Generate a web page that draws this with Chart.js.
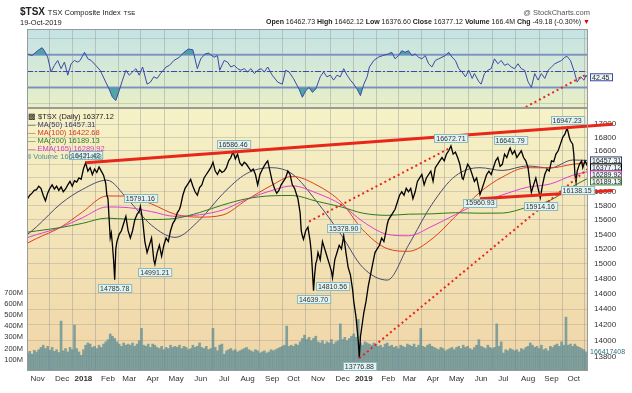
<!DOCTYPE html>
<html>
<head>
<meta charset="utf-8">
<script src="https://cdn.jsdelivr.net/npm/chart.js@4.4.1/dist/chart.umd.min.js"></script>
<style>
  body { margin: 0; background: #fff; font-family: Arial, "Liberation Sans", sans-serif; }
  #wrap { position: relative; width: 632px; height: 393px; }
  #c { position: absolute; left: 0; top: 0; }
  .t { position: absolute; white-space: nowrap; color: #222; }
  .lg { position: absolute; left: 28px; top: 113px; font-size: 7.5px; line-height: 8px; }
  .lg div { white-space: nowrap; }
</style>
</head>
<body>
<div id="wrap">
  <canvas id="c" width="632" height="393"></canvas>
  <div class="t" style="left:20px;top:6px;font-size:10px"><b>$TSX</b> <span style="font-size:7.5px">TSX Composite Index</span> <span style="font-size:6px">TSE</span></div>
  <div class="t" style="left:20px;top:18px;font-size:7.5px">19-Oct-2019</div>
  <div class="t" style="right:42px;top:8px;font-size:7.5px;color:#555">@ StockCharts.com</div>
  <div class="t" style="right:42px;top:18px;font-size:7px"><b>Open</b> 16462.73 <b>High</b> 16462.12 <b>Low</b> 16376.60 <b>Close</b> 16377.12 <b>Volume</b> 166.4M <b>Chg</b> -49.18 (-0.30%) <span style="color:#d00">&#9660;</span></div>
  <div class="lg">
    <div style="color:#222">&#9641; $TSX (Daily) 16377.12</div>
    <div style="color:#3b3b66">&mdash; MA(50) 16457.31</div>
    <div style="color:#d83a18">&mdash; MA(100) 16422.68</div>
    <div style="color:#2f7a1e">&mdash; MA(200) 16189.13</div>
    <div style="color:#d03cc0">&mdash; EMA(165) 16289.92</div>
    <div style="color:#4f8f96">&#8214; Volume 166,417,408</div>
  </div>
</div>
<script>
// month gridlines (trading-day index) and their labels
const monthTicks = [9, 31, 50, 72, 91, 112, 133, 155, 176, 197, 219, 238, 260, 282, 301, 323, 342, 363, 384, 406, 426, 448, 469, 489];
const monthLabels = ['Nov', 'Dec', '2018', 'Feb', 'Mar', 'Apr', 'May', 'Jun', 'Jul', 'Aug', 'Sep', 'Oct', 'Nov', 'Dec', '2019', 'Feb', 'Mar', 'Apr', 'May', 'Jun', 'Jul', 'Aug', 'Sep', 'Oct'];

const priceTicks = [13800, 14000, 14200, 14400, 14600, 14800, 15000, 15200, 15400, 15600, 15800, 16000, 16200, 16400, 16600, 16800, 17000];
const rsiTicks = [10, 30, 50, 70, 90];
const volTicks = [100, 200, 300, 400, 500, 600, 700];

const priceDays = [0, 2, 4, 6, 8, 10, 12, 14, 16, 18, 20, 22, 24, 26, 28, 30, 32, 34, 36, 38, 40, 42, 44, 46, 48, 50, 52, 54, 56, 58, 60, 62, 64, 66, 68, 70, 71, 72, 73, 74, 75, 76, 77, 78, 79, 80, 82, 84, 86, 88, 90, 92, 94, 96, 98, 100, 101, 103, 105, 107, 109, 111, 113, 114, 116, 118, 120, 122, 124, 126, 128, 130, 132, 134, 136, 137, 139, 141, 143, 145, 146, 148, 150, 152, 154, 156, 158, 160, 162, 164, 166, 168, 170, 172, 174, 176, 178, 180, 182, 184, 186, 188, 190, 192, 194, 196, 198, 200, 202, 204, 206, 208, 210, 212, 214, 215, 217, 219, 221, 223, 225, 227, 229, 231, 233, 235, 237, 239, 241, 242, 244, 245, 246, 247, 249, 251, 253, 254, 255, 256, 257, 258, 259, 260, 262, 264, 266, 268, 270, 272, 273, 275, 277, 279, 281, 283, 285, 287, 289, 291, 292, 294, 295, 296, 297, 298, 300, 301, 303, 305, 307, 309, 311, 313, 315, 317, 319, 321, 322, 323, 325, 327, 329, 331, 333, 335, 337, 339, 341, 343, 345, 347, 349, 351, 353, 355, 357, 359, 361, 363, 365, 367, 369, 371, 373, 375, 377, 379, 381, 383, 385, 387, 389, 390, 392, 394, 396, 398, 400, 402, 404, 405, 407, 409, 411, 413, 415, 417, 419, 421, 423, 425, 427, 429, 431, 432, 434, 436, 438, 440, 442, 444, 446, 448, 450, 451, 453, 455, 457, 459, 461, 463, 465, 467, 469, 471, 473, 475, 477, 479, 481, 483, 485, 486, 488, 489, 490, 491, 492, 494, 496, 497, 499, 500, 501];
const priceValues = [15900, 15950, 15980, 16020, 16030, 16080, 16050, 15950, 15870, 15980, 16050, 16100, 16040, 16080, 16020, 16070, 16000, 16040, 16100, 16150, 16080, 16160, 16140, 16200, 16180, 16330, 16421, 16300, 16350, 16250, 16330, 16280, 16360, 16300, 16240, 16120, 15950, 15900, 15620, 15350, 15420, 15250, 15050, 14786, 15200, 15300, 15400, 15450, 15550, 15650, 15450, 15350, 15450, 15600, 15680, 15720, 15791, 15600, 15300, 15150, 15250, 15350, 15050, 14991, 15150, 15250, 15100, 15250, 15350, 15300, 15450, 15550, 15600, 15700, 15750, 15800, 15950, 16050, 16100, 16150, 16180, 16080, 16000, 15950, 16060, 16100, 16200, 16250, 16300, 16350, 16430, 16300, 16250, 16320, 16280, 16300, 16350, 16450, 16500, 16586, 16480, 16550, 16420, 16380, 16430, 16400, 16350, 16300, 16330, 16250, 16100, 16250, 16320, 16380, 16430, 16450, 16300, 16150, 16050, 15980, 16020, 16100, 16150, 16200, 16300, 16250, 16100, 16050, 15950, 15900, 15700, 15450, 15380, 15330, 15450, 15500, 15300, 15150, 14900, 14640, 14850, 15000, 15050, 15150, 15050, 15300, 15200, 15100, 15000, 14900, 14811, 15050, 15150, 15250, 15200, 15379, 15150, 14950, 14850, 14650, 14500, 14300, 14150, 14000, 13777, 14050, 14250, 14350, 14500, 14700, 14850, 15000, 15150, 15200, 15250, 15350, 15300, 15450, 15540, 15600, 15650, 15700, 15750, 15850, 15950, 16000, 15950, 16050, 16000, 16050, 15900, 16000, 16150, 16200, 16250, 16100, 16200, 16250, 16300, 16150, 16350, 16400, 16450, 16500, 16450, 16550, 16600, 16672, 16550, 16580, 16500, 16400, 16200, 16180, 16300, 16400, 16350, 16250, 16150, 16200, 16050, 15961, 16050, 16150, 16250, 16300, 16250, 16350, 16450, 16500, 16370, 16400, 16550, 16500, 16600, 16642, 16550, 16600, 16500, 16550, 16600, 16500, 16450, 16350, 16100, 15990, 16100, 16200, 16050, 15914, 16100, 16250, 16330, 16300, 16450, 16440, 16550, 16600, 16700, 16800, 16850, 16947, 16800, 16750, 16700, 16550, 16250, 16138, 16300, 16400, 16450, 16350, 16450, 16420, 16377];

// moving averages read at month ends
const maDays = [0, 8, 30, 49, 71, 90, 111, 132, 154, 175, 196, 218, 237, 259, 281, 300, 322, 341, 362, 383, 405, 425, 447, 468, 488, 501];
const ma50 = [15400, 15504, 15833, 16033, 16168, 15885, 15526, 15358, 15600, 15975, 16263, 16350, 16258, 15857, 15387, 14950, 14780, 15250, 15821, 16229, 16350, 16309, 16375, 16346, 16463, 16457];
const ma100 = [15280, 15342, 15502, 15710, 15940, 15938, 15826, 15681, 15640, 15671, 15881, 16088, 16223, 16096, 15846, 15463, 15203, 15167, 15336, 15650, 15994, 16213, 16350, 16347, 16400, 16423];
const ma200 = [15430, 15447, 15495, 15552, 15626, 15610, 15607, 15621, 15705, 15813, 15900, 15942, 15947, 15863, 15783, 15696, 15665, 15681, 15686, 15702, 15695, 15697, 15778, 15879, 16077, 16189];
const ema165 = [15355, 15395, 15499, 15631, 15783, 15774, 15717, 15651, 15673, 15742, 15891, 16015, 16085, 15980, 15815, 15580, 15400, 15380, 15511, 15676, 15845, 15955, 16064, 16113, 16239, 16290];

// volume in millions, one bar every second trading day
const volume = [160, 175, 150, 185, 170,
  190, 210, 230, 200, 220, 185, 210, 175, 190, 165, 445,
  180, 200, 170, 210, 190, 410, 200, 170, 140,
  190, 230, 250, 240, 210, 220, 200, 230, 210, 240, 260,
  280, 330, 310, 290, 260, 240, 220, 250, 230, 240,
  230, 250, 220, 240, 270, 380, 230, 220, 240, 210,
  240, 230, 210, 200, 220, 190, 210, 200, 230, 210, 220,
  210, 230, 200, 220, 210, 190, 200, 230, 210, 220, 250,
  210, 200, 220, 190, 200, 380, 210, 180, 230, 240,
  150, 180, 190, 200, 180, 190, 170, 180, 190, 200, 210,
  190, 180, 170, 190, 180, 160, 170, 180, 160, 170, 190,
  180, 190, 200, 210, 220, 230, 400, 220, 230,
  220, 240, 230, 260, 290, 320, 280, 300, 270, 290, 310,
  260, 250, 270, 240, 260, 250, 280, 240, 260, 270, 420,
  280, 300, 270, 290, 310, 330, 300, 460, 250, 230,
  260, 250, 240, 230, 250, 240, 220, 230, 210, 240, 250,
  220, 230, 210, 220, 200, 230, 220, 210, 240,
  230, 220, 240, 210, 230, 380, 220, 210, 230, 240, 220,
  210, 200, 190, 210, 200, 180, 190, 200, 210, 190,
  210, 220, 200, 230, 210, 220, 200, 190, 210, 230, 280,
  220, 210, 200, 230, 210, 200, 210, 420, 220, 260,
  160, 190, 180, 200, 190, 180, 190, 170, 200, 190, 210,
  220, 250, 230, 210, 220, 200, 230, 190, 200, 180, 220,
  210, 230, 240, 220, 260, 230, 480, 230, 240, 220,
  240, 220, 210, 200, 190, 170];

// RSI(14)
const rsiDays = [0, 4, 9, 13, 15, 18, 21, 24, 27, 30, 33, 36, 39, 42, 45, 47, 51, 54, 57, 61, 65, 70, 73, 76, 79, 82, 85, 88, 91, 94, 97, 100, 103, 107, 110, 113, 116, 119, 124, 127, 131, 136, 140, 144, 148, 152, 155, 159, 162, 167, 170, 172, 176, 179, 182, 185, 188, 191, 194, 197, 200, 203, 206, 209, 212, 215, 219, 224, 228, 231, 234, 238, 243, 246, 249, 252, 255, 258, 262, 265, 268, 271, 274, 277, 280, 283, 286, 289, 292, 295, 298, 301, 304, 306, 310, 314, 318, 323, 326, 329, 332, 335, 338, 341, 344, 347, 350, 353, 356, 359, 362, 365, 368, 371, 374, 377, 380, 383, 386, 389, 392, 395, 398, 400, 404, 406, 409, 412, 415, 418, 421, 424, 427, 430, 433, 436, 439, 442, 445, 448, 451, 454, 457, 460, 463, 466, 469, 472, 475, 478, 481, 483, 486, 489, 492, 495, 498, 500, 501];
const rsiValues = [71, 69, 75, 78.6, 75, 67, 49, 57, 63, 53, 61, 45, 59, 63, 61, 63, 73, 65, 63, 57, 51, 36.5, 28, 18, 14, 26, 39, 51, 45, 49, 53, 45, 55, 34, 36.5, 43, 41, 47, 55, 57, 63, 67, 73, 77, 76, 53, 65, 71, 72, 67, 69, 51, 63, 61, 55, 57, 53, 51, 53, 49, 53, 47, 51, 53, 49, 55, 45, 36.5, 34, 51, 49, 41, 28, 18, 26, 30, 24, 28, 43, 49, 43, 45, 39, 45, 43, 53, 45, 39, 34, 28, 20, 34, 43, 55, 63, 67, 69, 71, 73, 65, 69, 75, 73, 75, 69, 71, 67, 65, 69, 59, 55, 63, 65, 67, 69, 73, 67, 63, 53, 49, 43, 51, 41, 47, 37, 34, 47, 51, 53, 65, 59, 63, 57, 59, 55, 53, 59, 53, 51, 37, 30, 47, 39, 47, 41, 51, 55, 59, 61, 63, 67, 68, 63, 51, 36.5, 43, 39, 45, 42.45];

// drawn trend lines (day index, value)
const upperTrendDays = [52, 524];
const upperTrendValues = [16421, 17000];
const lowerTrendDays = [405, 524];
const lowerTrendValues = [15900, 16020];
const dotTrend1Days = [252, 378];
const dotTrend1Values = [15578, 16640];
const dotTrend2Days = [297, 501];
const dotTrend2Values = [13777, 16326];
const rsiTrendDays = [446, 501];
const rsiTrendValues = [6, 46.5];

// labelled highs and lows
const noteDays = [52, 78, 101, 114, 184, 256, 273, 283, 297, 379, 405, 432, 459, 483, 492];
const noteValues = [16421.42, 14785.78, 15791.16, 14991.21, 16586.46, 14639.70, 14810.56, 15378.90, 13776.88, 16672.71, 15960.93, 16641.79, 15914.16, 16947.23, 16138.15];
const noteSides = ['up', 'down', 'up', 'down', 'up', 'down', 'down', 'up', 'down', 'up', 'down', 'up', 'down', 'up', 'down'];

const pts = (days, vals) => days.map((d, i) => ({ x: d, y: vals[i] }));

const panels = {
  id: 'panels',
  beforeDraw(chart) {
    const { ctx, chartArea: a } = chart;
    const split = 107;
    ctx.save();
    let g = ctx.createLinearGradient(0, a.top, 0, split);
    g.addColorStop(0, '#c4e3e6');
    g.addColorStop(1, '#e7efc6');
    ctx.fillStyle = g;
    ctx.fillRect(a.left, a.top, a.right - a.left, split - a.top);
    g = ctx.createLinearGradient(0, split, 0, a.bottom);
    g.addColorStop(0, '#f6f2c8');
    g.addColorStop(1, '#f0d5a6');
    ctx.fillStyle = g;
    ctx.fillRect(a.left, split, a.right - a.left, a.bottom - split);
    ctx.restore();
  },
  afterDatasetsDraw(chart) {
    const { ctx, chartArea: a } = chart;
    ctx.save();
    ctx.strokeStyle = '#9a9a9a';
    ctx.lineWidth = 1;
    ctx.strokeRect(a.left + 0.5, a.top + 0.5, a.right - a.left - 1, 107 - a.top);
    ctx.strokeRect(a.left + 0.5, 108.5, a.right - a.left - 1, a.bottom - 109);
    ctx.restore();
  }
};

const notes = {
  id: 'notes',
  afterDatasetsDraw(chart) {
    const { ctx } = chart;
    const x = chart.scales.x, y = chart.scales.yPrice;
    ctx.save();
    ctx.font = '7px Arial';
    ctx.textAlign = 'center';
    ctx.textBaseline = 'middle';
    noteDays.forEach((d, i) => {
      const px = x.getPixelForValue(d), py = y.getPixelForValue(noteValues[i]);
      const txt = noteValues[i].toFixed(2);
      const w = ctx.measureText(txt).width + 4, h = 8;
      const top = noteSides[i] === 'up' ? py - 4 - h : py + 4;
      ctx.fillStyle = '#e2f3f3';
      ctx.strokeStyle = '#8db9bb';
      ctx.fillRect(Math.round(px - w / 2) + 0.5, Math.round(top) + 0.5, w, h);
      ctx.strokeRect(Math.round(px - w / 2) + 0.5, Math.round(top) + 0.5, w, h);
      ctx.fillStyle = '#333';
      ctx.fillText(txt, px, top + h / 2 + 1);
    });
    ctx.restore();
  }
};

const tags = {
  id: 'tags',
  afterDraw(chart) {
    const { ctx } = chart;
    const s = chart.scales;
    const list = [
      [s.yPrice.getPixelForValue(16457.31), '16457.31', '#3b3b66'],
      [s.yPrice.getPixelForValue(16377.12), '16377.12', '#000'],
      [s.yPrice.getPixelForValue(16289.92), '16289.92', '#c43cb8'],
      [s.yPrice.getPixelForValue(16189.13), '16189.13', '#2f7a1e']
    ];
    let last = -99;
    ctx.save();
    ctx.font = '7px Arial';
    ctx.textBaseline = 'middle';
    list.forEach(t => {
      let cy = Math.max(t[0], last + 7);
      last = cy;
      ctx.fillStyle = '#eef6f4';
      ctx.fillRect(590.5, cy - 3.5, 31, 7);
      ctx.strokeStyle = t[2];
      ctx.strokeRect(590.5, cy - 3.5, 31, 7);
      ctx.fillStyle = '#223';
      ctx.fillText(t[1], 592, cy + 0.5);
    });
    const ry = s.yRsi.getPixelForValue(42.45);
    ctx.fillStyle = '#eef6f4';
    ctx.fillRect(590.5, ry - 3.5, 22, 7);
    ctx.strokeStyle = '#3a4aa8';
    ctx.strokeRect(590.5, ry - 3.5, 22, 7);
    ctx.fillStyle = '#223';
    ctx.fillText('42.45', 592, ry + 0.5);
    const vy = s.yVol.getPixelForValue(166.4);
    ctx.fillStyle = '#2f6f78';
    ctx.fillText('166417408', 590, vy);
    ctx.restore();
  }
};

const rsiGuides = {
  id: 'rsiGuides',
  beforeDatasetsDraw(chart) {
    const { ctx, chartArea: a } = chart;
    const r = chart.scales.yRsi;
    ctx.save();
    ctx.strokeStyle = '#8794c4';
    ctx.lineWidth = 2;
    [70, 30].forEach(v => {
      const py = r.getPixelForValue(v);
      ctx.beginPath(); ctx.moveTo(a.left, py); ctx.lineTo(a.right, py); ctx.stroke();
    });
    ctx.strokeStyle = '#3c4ca6';
    ctx.lineWidth = 1;
    ctx.setLineDash([6, 2, 2, 2]);
    const py = Math.round(r.getPixelForValue(50)) + 0.5;
    ctx.beginPath(); ctx.moveTo(a.left, py); ctx.lineTo(a.right, py); ctx.stroke();
    ctx.restore();
  }
};

const maLine = (label, vals, color) => ({
  label, data: pts(maDays, vals), yAxisID: 'yPrice', borderColor: color, borderWidth: 1,
  pointRadius: 0, tension: 0.4, cubicInterpolationMode: 'monotone', order: 5
});

new Chart(document.getElementById('c'), {
  type: 'line',
  data: {
    datasets: [
      { type: 'bar', label: 'Volume', data: volume.map((v, i) => ({ x: i * 2, y: v })), yAxisID: 'yVol',
        backgroundColor: 'rgba(92,140,150,0.75)', barThickness: 2, order: 10 },
      maLine('MA(200)', ma200, '#2f7a1e'),
      maLine('EMA(165)', ema165, '#e040d0'),
      maLine('MA(100)', ma100, '#e0401c'),
      maLine('MA(50)', ma50, '#4a4a72'),
      { label: '$TSX', data: pts(priceDays, priceValues), yAxisID: 'yPrice', borderColor: '#000', borderWidth: 1.3,
        pointRadius: 0, tension: 0, order: 3 },
      { label: 'RSI fill hi', data: pts(rsiDays, rsiValues), yAxisID: 'yRsi', borderWidth: 0, pointRadius: 0,
        fill: { target: { value: 70 }, above: 'rgba(58,150,160,0.85)', below: 'rgba(0,0,0,0)' }, order: 4 },
      { label: 'RSI fill lo', data: pts(rsiDays, rsiValues), yAxisID: 'yRsi', borderWidth: 0, pointRadius: 0,
        fill: { target: { value: 30 }, above: 'rgba(0,0,0,0)', below: 'rgba(58,150,160,0.85)' }, order: 4 },
      { label: 'RSI(14)', data: pts(rsiDays, rsiValues), yAxisID: 'yRsi', borderColor: '#3a4aa8', borderWidth: 1,
        pointRadius: 0, tension: 0, order: 2 },
      { label: 'upper', data: pts(upperTrendDays, upperTrendValues), yAxisID: 'yPrice', borderColor: '#e8261a',
        borderWidth: 3, pointRadius: 0, clip: false, order: 1 },
      { label: 'lower', data: pts(lowerTrendDays, lowerTrendValues), yAxisID: 'yPrice', borderColor: '#e8261a',
        borderWidth: 3, pointRadius: 0, clip: false, order: 1 },
      { label: 'dot1', data: pts(dotTrend1Days, dotTrend1Values), yAxisID: 'yPrice', borderColor: '#e8261a',
        borderWidth: 2, borderDash: [2, 3], pointRadius: 0, order: 1 },
      { label: 'dot2', data: pts(dotTrend2Days, dotTrend2Values), yAxisID: 'yPrice', borderColor: '#e8261a',
        borderWidth: 2, borderDash: [2, 3], pointRadius: 0, order: 1 },
      { label: 'dot3', data: pts(rsiTrendDays, rsiTrendValues), yAxisID: 'yRsi', borderColor: '#e8261a',
        borderWidth: 2, borderDash: [2, 3], pointRadius: 0, order: 1 }
    ]
  },
  options: {
    responsive: false,
    animation: false,
    events: [],
    layout: { padding: { top: 29, left: 0, right: 0, bottom: 0 } },
    plugins: { legend: { display: false }, tooltip: { enabled: false } },
    scales: {
      x: {
        type: 'linear', min: -0.5, max: 501.7, offset: false,
        afterBuildTicks: s => { s.ticks = monthTicks.map(v => ({ value: v })); },
        afterFit: s => { s.height = 22; },
        grid: { color: 'rgba(150,150,150,0.45)', drawTicks: false },
        border: { display: false },
        ticks: {
          autoSkip: false, maxRotation: 0, padding: 3, color: '#333',
          font: c => ({ family: 'Arial', size: 8, weight: /^\d{4}$/.test(monthLabels[c.index]) ? 'bold' : 'normal' }),
          callback: v => monthLabels[monthTicks.indexOf(v)]
        }
      },
      yRsi: {
        position: 'right', min: -316.9, max: 101.5,
        afterBuildTicks: s => { s.ticks = rsiTicks.map(v => ({ value: v })); },
        afterFit: s => { s.width = 0; },
        grid: { color: 'rgba(150,150,150,0.35)', drawTicks: false },
        border: { display: false },
        ticks: { padding: 5, color: '#333', font: { family: 'Arial', size: 8 }, callback: v => v }
      },
      yPrice: {
        type: 'logarithmic', position: 'right', min: 13621, max: 18519,
        afterBuildTicks: s => { s.ticks = priceTicks.map(v => ({ value: v })); },
        afterFit: s => { s.width = 44; },
        grid: { color: 'rgba(150,150,150,0.35)', drawTicks: false },
        border: { display: false },
        ticks: { padding: 6, color: '#333', font: { family: 'Arial', size: 8 }, callback: v => String(v) }
      },
      yVol: {
        position: 'left', min: 0, max: 3050,
        afterBuildTicks: s => { s.ticks = volTicks.map(v => ({ value: v })); },
        afterFit: s => { s.width = 27; },
        grid: { display: false, drawTicks: false },
        border: { display: false },
        ticks: { padding: 4, color: '#333', font: { family: 'Arial', size: 7.5 }, callback: v => v + 'M' }
      }
    }
  },
  plugins: [panels, rsiGuides, notes, tags]
});
</script>
</body>
</html>
